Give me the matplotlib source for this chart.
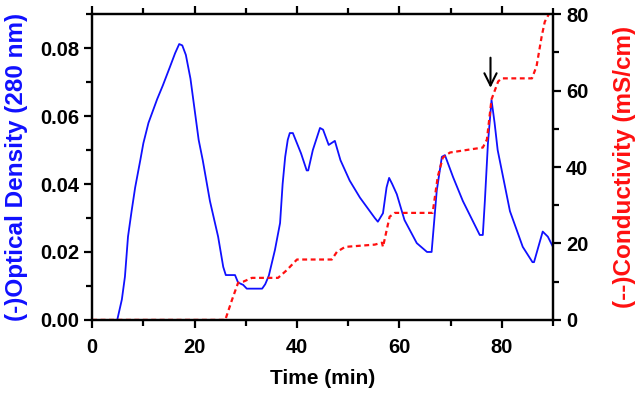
import numpy as np
import matplotlib
matplotlib.use("Agg")
import matplotlib.pyplot as plt
from matplotlib.ticker import MultipleLocator

plt.rcParams["font.family"] = ["Liberation Sans", "DejaVu Sans"]
plt.rcParams["font.weight"] = "bold"

# ── Data ──────────────────────────────────────────────────────────────────
od_time = [0, 4.9, 5.8, 6.4, 7.0, 7.7, 8.4, 9.4, 10.0, 11.0, 12.7, 13.8,
           15.2, 16.2, 17.0, 17.6, 18.3, 19.2, 20.0, 20.8, 21.6, 23.0, 24.6,
           25.6, 26.1, 27.9, 28.5, 29.5, 30.2, 33.2, 33.8, 34.5, 35.7, 36.7,
           37.2, 37.7, 38.2, 38.6, 39.2, 39.6, 40.8, 41.9, 42.2, 43.1, 44.5,
           45.1, 46.2, 47.4, 48.5, 50.3, 52.3, 55.2, 55.8, 56.8, 57.5, 58.0,
           58.6, 59.5, 61.0, 63.4, 65.4, 66.3, 67.3, 68.3, 68.9, 70.5, 72.4,
           75.7, 76.3, 76.7, 77.3, 78.0, 78.6, 79.2, 81.6, 84.1, 86.0, 86.3,
           88.0, 89.0, 90.0]
od_value = [0, 0, 0.006, 0.0127, 0.0245, 0.032, 0.039, 0.047, 0.052, 0.058,
            0.065, 0.069, 0.0745, 0.0785, 0.0812, 0.0808, 0.078, 0.071,
            0.062, 0.053, 0.047, 0.035, 0.0245, 0.0156, 0.0132, 0.0132,
            0.011, 0.0103, 0.0092, 0.0092, 0.0105, 0.013, 0.0206, 0.0285,
            0.040, 0.048, 0.053, 0.055, 0.055, 0.0535, 0.049, 0.044, 0.044,
            0.050, 0.0565, 0.056, 0.0515, 0.0527, 0.047, 0.041, 0.036, 0.030,
            0.0289, 0.0314, 0.039, 0.0418, 0.040, 0.037, 0.0294, 0.0226,
            0.020, 0.020, 0.038, 0.048, 0.0485, 0.042, 0.035, 0.025, 0.025,
            0.035, 0.052, 0.0647, 0.058, 0.050, 0.032, 0.0215, 0.017, 0.017,
            0.026, 0.0245, 0.0215]

cond_time = [0, 26.0, 27.3, 28.5, 29.5, 31.2, 36.3, 38.0, 40.0, 46.8, 47.8,
             49.4, 55.2, 56.6, 56.8, 58.1, 59.1, 66.5, 67.5, 68.5, 69.9,
             76.3, 77.1, 78.0, 79.3, 80.0, 85.9, 86.8, 87.8, 88.4, 89.4, 90.0]
cond_value = [0, 0, 5.2, 9.7, 10.0, 11.0, 11.0, 13.0, 15.8, 15.8, 17.8,
              19.1, 19.7, 20.2, 19.1, 27.0, 28.0, 28.0, 37.5, 42.5, 43.8,
              45.1, 47.2, 57.7, 62.4, 63.2, 63.2, 66.4, 74.2, 78.0, 80.5, 80.5]

arrow_x = 77.8
arrow_tail, arrow_head = 0.078, 0.0675

# ── Figure ─────────────────────────────────────────────────────────────────
fig = plt.figure(figsize=(6.4, 3.93), dpi=100)
ax = fig.add_axes([0.144, 0.186, 0.720, 0.778])
ax2 = ax.twinx()

ax.plot(od_time, od_value, color="#1010ff", linewidth=1.3)
ax2.plot(cond_time, cond_value, color="#ff1010", linewidth=1.6,
         linestyle=(0, (2.2, 1.6)))

ax.annotate("", xy=(arrow_x, arrow_head), xytext=(arrow_x, arrow_tail),
            arrowprops=dict(arrowstyle="->", color="black", lw=1.5,
                            mutation_scale=22))

ax.set_xlim(0, 90)
ax.set_ylim(0, 0.09)
ax2.set_ylim(0, 80)

ax.xaxis.set_major_locator(MultipleLocator(20))
ax.xaxis.set_minor_locator(MultipleLocator(10))
ax.yaxis.set_major_locator(MultipleLocator(0.02))
ax.yaxis.set_minor_locator(MultipleLocator(0.01))
ax2.yaxis.set_major_locator(MultipleLocator(20))
ax2.yaxis.set_minor_locator(MultipleLocator(10))
ax.yaxis.set_major_formatter(plt.FormatStrFormatter("%.2f"))

for a in (ax, ax2):
    for s in a.spines.values():
        s.set_linewidth(1.6)
    a.tick_params(which="both", direction="out", width=1.6, labelsize=14.5)
    a.tick_params(which="major", length=6)
    a.tick_params(which="minor", length=4)
ax.tick_params(axis="x", which="both", top=True)
ax.tick_params(axis="x", pad=7)

ax.set_xlabel("Time (min)", fontsize=15, fontweight="bold", labelpad=9)
ax.set_ylabel("(-)Optical Density (280 nm)", fontsize=17.5, fontweight="bold",
              color="#1010ff")
ax2.set_ylabel("(--)Conductivity (mS/cm)", fontsize=17.5, fontweight="bold",
               color="#ff1010")
ax.yaxis.set_label_coords(-0.14, 0.5)
ax2.yaxis.set_label_coords(1.13, 0.5)

fig.savefig("out.png", dpi=100)
